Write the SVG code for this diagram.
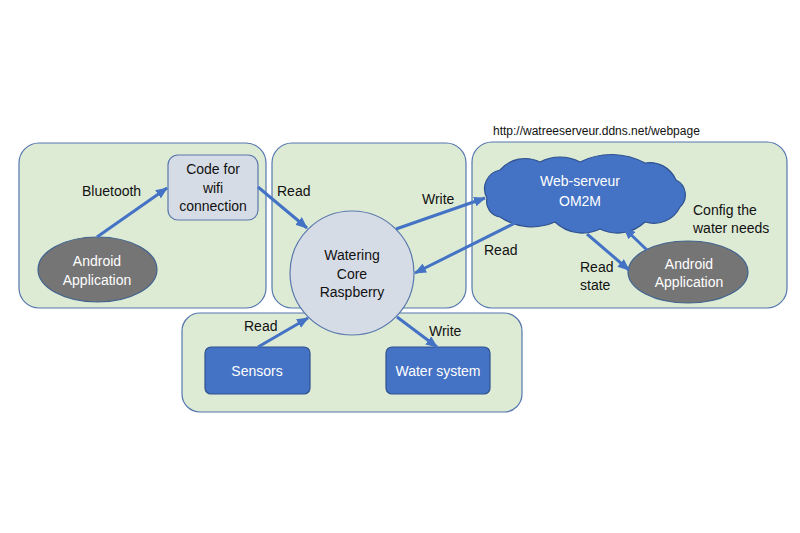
<svg xmlns="http://www.w3.org/2000/svg" width="800" height="533" viewBox="0 0 800 533">
<defs>
<style>
.zone{fill:#DDEBD5;stroke:#5577AE;stroke-width:1.2}
.t{font-family:"Liberation Sans",Arial,sans-serif;font-size:14px;fill:#111}
.tc{text-anchor:middle}
.w{fill:#fff}
.conn{stroke:#4472C4;stroke-width:3;fill:none;marker-end:url(#ah)}
.gray{fill:#757575;stroke:#41638F;stroke-width:1.2}
.light{fill:#D6DCE5;stroke:#5A78AC;stroke-width:1.2}
.blue{fill:#4472C4;stroke:#2F528F;stroke-width:1.2}
</style>
<marker id="ah" viewBox="0 0 12 10" refX="11" refY="5" markerWidth="12" markerHeight="10" markerUnits="userSpaceOnUse" orient="auto">
<path d="M0,0 L12,5 L0,10 z" fill="#4472C4"/>
</marker>
</defs>
<rect width="800" height="533" fill="#fff"/>

<g id="zone-left"><rect class="zone" x="19" y="143" width="247" height="165" rx="20"/></g>
<g id="zone-middle"><rect class="zone" x="272" y="143" width="194" height="165" rx="20"/></g>
<g id="zone-right"><rect class="zone" x="472" y="142" width="315" height="166" rx="20"/></g>
<g id="zone-bottom"><rect class="zone" x="182" y="313" width="340" height="99" rx="18"/></g>

<text class="t" x="493" y="135" style="font-size:12px">http://watreeserveur.ddns.net/webpage</text>

<g id="code-wifi">
<rect class="light" x="168" y="155" width="90" height="65" rx="10"/>
<text class="t tc" x="213" y="174">Code for</text>
<text class="t tc" x="213" y="193">wifi</text>
<text class="t tc" x="213" y="211">connection</text>
</g>

<g id="android-left">
<ellipse class="gray" cx="97.5" cy="269.5" rx="59.5" ry="32.5"/>
<text class="t tc w" x="97" y="266">Android</text>
<text class="t tc w" x="97" y="285">Application</text>
</g>

<g id="core">
<circle class="light" cx="352" cy="273" r="62"/>
<text class="t tc" x="352" y="260">Watering</text>
<text class="t tc" x="352" y="279">Core</text>
<text class="t tc" x="352" y="297">Raspberry</text>
</g>

<g id="webserveur">
<path class="blue" d="M487,198 A19,19 0 0 1 500,170 A33.5,33.5 0 0 1 540,162 A42.5,42.5 0 0 1 580,162 A70,70 0 0 1 645,163 A28.5,28.5 0 0 1 676,180 A16.5,16.5 0 0 1 680,207 A29,29 0 0 1 645,222 A40,40 0 0 1 600,229 A40,40 0 0 1 555,222 A57.5,57.5 0 0 1 500,217 A15.7,15.7 0 0 1 487,198 Z"/>
<text class="t tc w" x="580" y="186">Web-serveur</text>
<text class="t tc w" x="580" y="206">OM2M</text>
</g>

<g id="android-right">
<ellipse class="gray" cx="688" cy="272" rx="60" ry="31"/>
<text class="t tc w" x="689" y="269">Android</text>
<text class="t tc w" x="689" y="287">Application</text>
</g>

<g id="sensors">
<rect class="blue" x="205" y="347" width="105" height="47" rx="6"/>
<text class="t tc w" x="257" y="376">Sensors</text>
</g>

<g id="water-system">
<rect class="blue" x="386" y="347" width="104" height="47" rx="6"/>
<text class="t tc w" x="438" y="376">Water system</text>
</g>

<g id="connectors">
<line class="conn" x1="97" y1="237" x2="167" y2="188"/>
<line class="conn" x1="258" y1="187" x2="307" y2="228"/>
<line class="conn" x1="396" y1="229" x2="485" y2="198"/>
<line class="conn" x1="517" y1="222" x2="415" y2="273"/>
<line class="conn" x1="587" y1="234" x2="629" y2="270"/>
<line class="conn" x1="647" y1="250" x2="624" y2="228"/>
<line class="conn" x1="258" y1="347" x2="308" y2="318"/>
<line class="conn" x1="397" y1="317" x2="437" y2="347"/>
</g>

<g id="labels">
<text class="t" x="82" y="196">Bluetooth</text>
<text class="t" x="277" y="196">Read</text>
<text class="t" x="422" y="204">Write</text>
<text class="t" x="484" y="255">Read</text>
<text class="t" x="580" y="272">Read</text>
<text class="t" x="580" y="290">state</text>
<text class="t" x="693" y="215">Config the</text>
<text class="t" x="693" y="233">water needs</text>
<text class="t" x="244" y="331">Read</text>
<text class="t" x="429" y="336">Write</text>
</g>
</svg>
